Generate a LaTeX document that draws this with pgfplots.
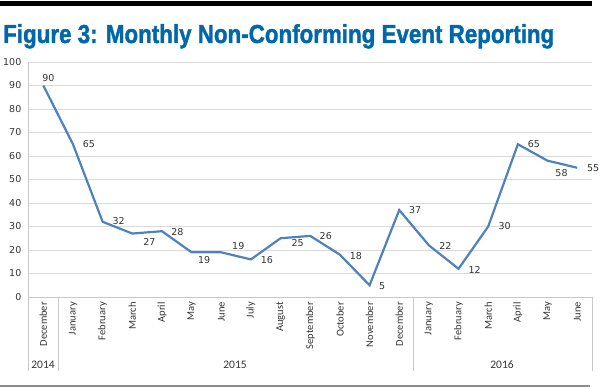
\documentclass[border=0pt]{standalone}
\usepackage{fontspec}
\setmainfont{Carlito}
\newfontfamily\numfont{DejaVu Sans}
\newfontfamily\titlefont[BoldFeatures={FakeBold=1.6}]{Liberation Sans}
\usepackage{graphicx}
\usepackage{pgfplots}
\usepackage{pgfplotstable}
\pgfplotsset{compat=1.18}
\definecolor{titleblue}{RGB}{0,104,170}
\definecolor{lineblue}{RGB}{79,129,189}
\definecolor{gridgray}{RGB}{217,217,217}
\definecolor{sepgray}{RGB}{200,200,200}

\pgfplotstableread{
x y dx dy
0 90 5 7
1 65 16 0
2 32 16 1
3 27 17 -8
4 28 15.5 -1
5 19 12.5 -8
6 19 17 6
7 16 16 -1
8 25 17 -5
9 26 15.5 0
10 18 16 -1
11 5 12.5 -1
12 37 16 0
13 22 16.5 -1
14 12 16 -1
15 30 16.5 0
16 65 16 0
17 58 14 -12
18 55 16 0
}\datatable

\begin{document}
\begin{tikzpicture}
\path[use as bounding box] (0pt,0pt) rectangle (600pt,388pt);
\fill[black] (0pt,382pt) rectangle (592pt,386.5pt);
\node[anchor=base west, inner sep=0pt, text=titleblue] at (3pt,345pt)
  {\resizebox{551pt}{\height}{\titlefont\bfseries\fontsize{26}{26}\selectfont Figure 3: Monthly Non-Conforming Event Reporting}};
\begin{axis}[
  at={(28.5pt,91pt)}, anchor=south west,
  scale only axis, width=563.5pt, height=235pt,
  xmin=-0.5, xmax=18.5, ymin=0, ymax=100,
  ytick={0,10,...,100},
  xtick={0,...,18},
  xticklabels={December,January,February,March,April,May,June,July,August,September,October,November,December,January,February,March,April,May,June},
  axis lines=left,
  axis line style={-, sepgray, line width=0.8pt},
  major tick length=0pt,
  ymajorgrids,
  grid style={gridgray, line width=0.8pt},
  /pgf/number format/assume math mode=true,
  xticklabel style={rotate=90, anchor=east, font=\fontsize{10.5}{12}\selectfont, inner xsep=5pt, inner ysep=0pt, text=black!80},
  yticklabel style={font=\numfont\fontsize{9.5}{10}\selectfont, anchor=east, inner sep=0pt, xshift=-7pt, text=black!80},
  clip=false,
]
\addplot[lineblue, line width=2.2pt, mark=none,
  visualization depends on={\thisrow{dx} \as \dx},
  visualization depends on={\thisrow{dy} \as \dy},
  nodes near coords,
  nodes near coords style={anchor=center, xshift=\dx pt, yshift=\dy pt, inner sep=0pt, font=\numfont\fontsize{9.5}{10}\selectfont, text=black!80},
] table[x=x, y=y] {\datatable};
\end{axis}
\draw[sepgray, line width=0.8pt] (28.5pt,91pt) -- (28.5pt,17pt);
\draw[sepgray, line width=0.8pt] (58.2pt,91pt) -- (58.2pt,17pt);
\draw[sepgray, line width=0.8pt] (413pt,91pt) -- (413pt,17pt);
\draw[sepgray, line width=0.8pt] (592pt,91pt) -- (592pt,17pt);
\draw[black!45, line width=1.2pt] (0pt,2pt) -- (590pt,2pt);
\node[font=\fontsize{11.5}{12}\selectfont, text=black!80] at (43pt,23pt) {2014};
\node[font=\fontsize{11.5}{12}\selectfont, text=black!80] at (235pt,23pt) {2015};
\node[font=\fontsize{11.5}{12}\selectfont, text=black!80] at (502pt,23pt) {2016};
\end{tikzpicture}
\end{document}
